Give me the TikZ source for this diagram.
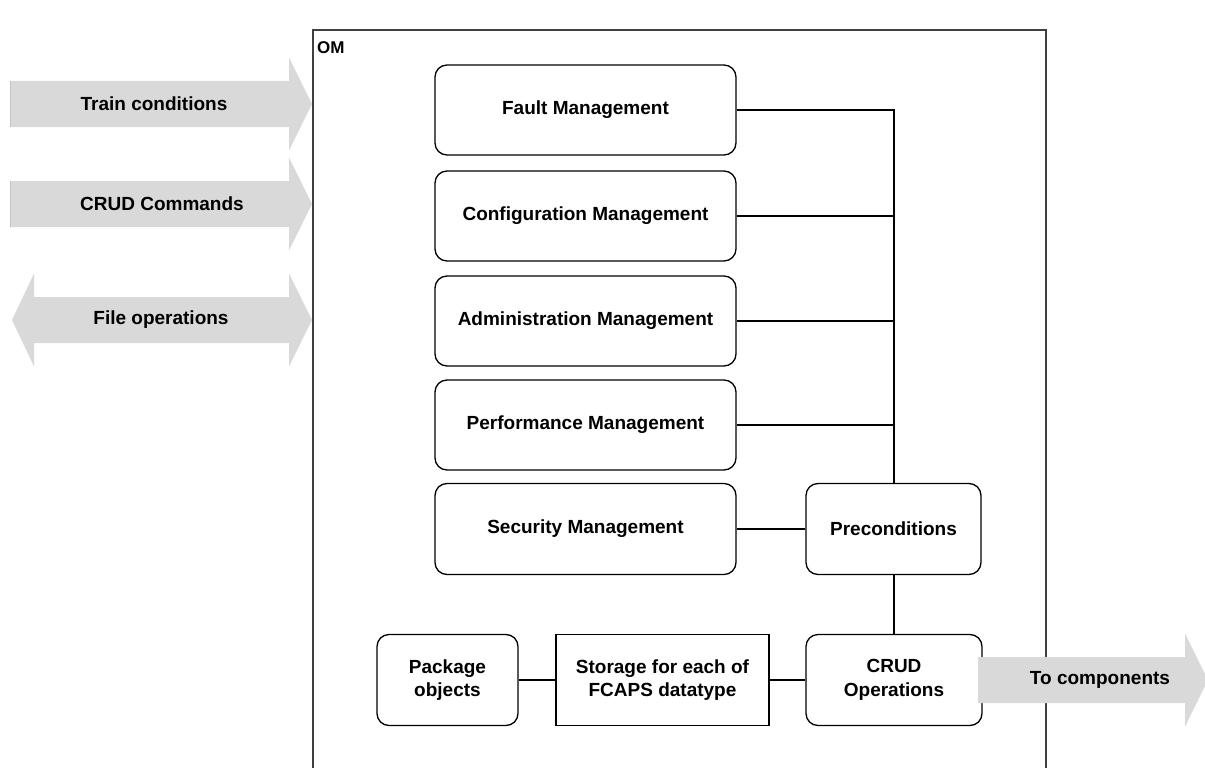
\documentclass[tikz,border=0pt]{standalone}
\usepackage{fontspec}
\setmainfont{Liberation Sans}
\definecolor{arrowgray}{HTML}{D9D9D9}
\definecolor{edgegray}{HTML}{C4C4C4}
\definecolor{framegray}{HTML}{404040}
\begin{document}
\begin{tikzpicture}[x=1pt,y=-1pt,
  lbl/.style={font=\fontsize{19}{23.5}\selectfont\bfseries, align=center, inner sep=0pt},
  mgmt/.style={draw=black, line width=1.3pt, rounded corners=12pt, lbl,
    minimum width=301pt, minimum height=90pt},
  smallbox/.style={draw=black, line width=1.3pt, rounded corners=12pt, lbl,
    minimum height=91pt},
  link/.style={draw=black, line width=2pt},
  flow/.style={fill=arrowgray, draw=none},
  flowtext/.style={lbl}]
\useasboundingbox (0,0) rectangle (1205,768);

% OM frame (open at the bottom edge)
\draw[framegray, line width=1.4pt] (313,768) -- (313,30) -- (1046,30) -- (1046,768);
\node[lbl, anchor=west, font=\fontsize{17}{20}\selectfont\bfseries] (om) at (317,48) {OM};

% FCAPS function blocks
\node[mgmt] (fault)  at (585.5,110) {Fault Management};
\node[mgmt] (config) at (585.5,216) {Configuration Management};
\node[mgmt] (admin)  at (585.5,321) {Administration Management};
\node[mgmt] (perf)   at (585.5,425) {Performance Management};
\node[mgmt, minimum height=91pt] (sec) at (585.5,529) {Security Management};

\node[smallbox, minimum width=175pt] (pre)  at (893.5,529) {Preconditions};
\node[smallbox, minimum width=176pt] (crud) at (894,680) {CRUD\\Operations};
\node[draw=black, line width=1.3pt, lbl, minimum width=213pt, minimum height=91pt]
  (store) at (662.5,680) {Storage for each of\\FCAPS datatype};
\node[smallbox, minimum width=141pt] (pkg) at (447.5,680) {Package\\objects};

% connections
\draw[link] (fault.east) -| (pre.north);
\draw[link] (config.east) -- (config.east -| pre.north);
\draw[link] (admin.east) -- (admin.east -| pre.north);
\draw[link] (perf.east) -- (perf.east -| pre.north);
\draw[link] (sec.east) -- (pre.west);
\draw[link] (pre.south) -- (pre.south |- crud.north);
\draw[link] (pkg.east) -- (store.west);
\draw[link] (store.east) -- (crud.west);

% external flows
\fill[flow] (10,81) -- (289,81) -- (289,57.5) -- (312,104) -- (289,150.5) -- (289,127) -- (10,127) -- cycle;
\draw[edgegray, line width=1pt] (10.5,81) -- (10.5,127);
\node[flowtext] (train) at (154,104) {Train conditions};

\fill[flow] (10,181) -- (289,181) -- (289,157.5) -- (312,204) -- (289,250.5) -- (289,227) -- (10,227) -- cycle;
\draw[edgegray, line width=1pt] (10.5,181) -- (10.5,227);
\node[flowtext] (cmds) at (162,204) {CRUD Commands};

\fill[flow] (12,320) -- (34,273.5) -- (34,297) -- (289,297) -- (289,273.5) -- (312,320)
  -- (289,366.5) -- (289,343) -- (34,343) -- (34,366.5) -- cycle;
\node[flowtext] (files) at (161,320) {File operations};

\fill[flow] (978,657) -- (1185,657) -- (1185,633.5) -- (1208,680) -- (1185,726.5) -- (1185,703) -- (978,703) -- cycle;
\node[flowtext] (out) at (1100,680) {To components};
\end{tikzpicture}
\end{document}
